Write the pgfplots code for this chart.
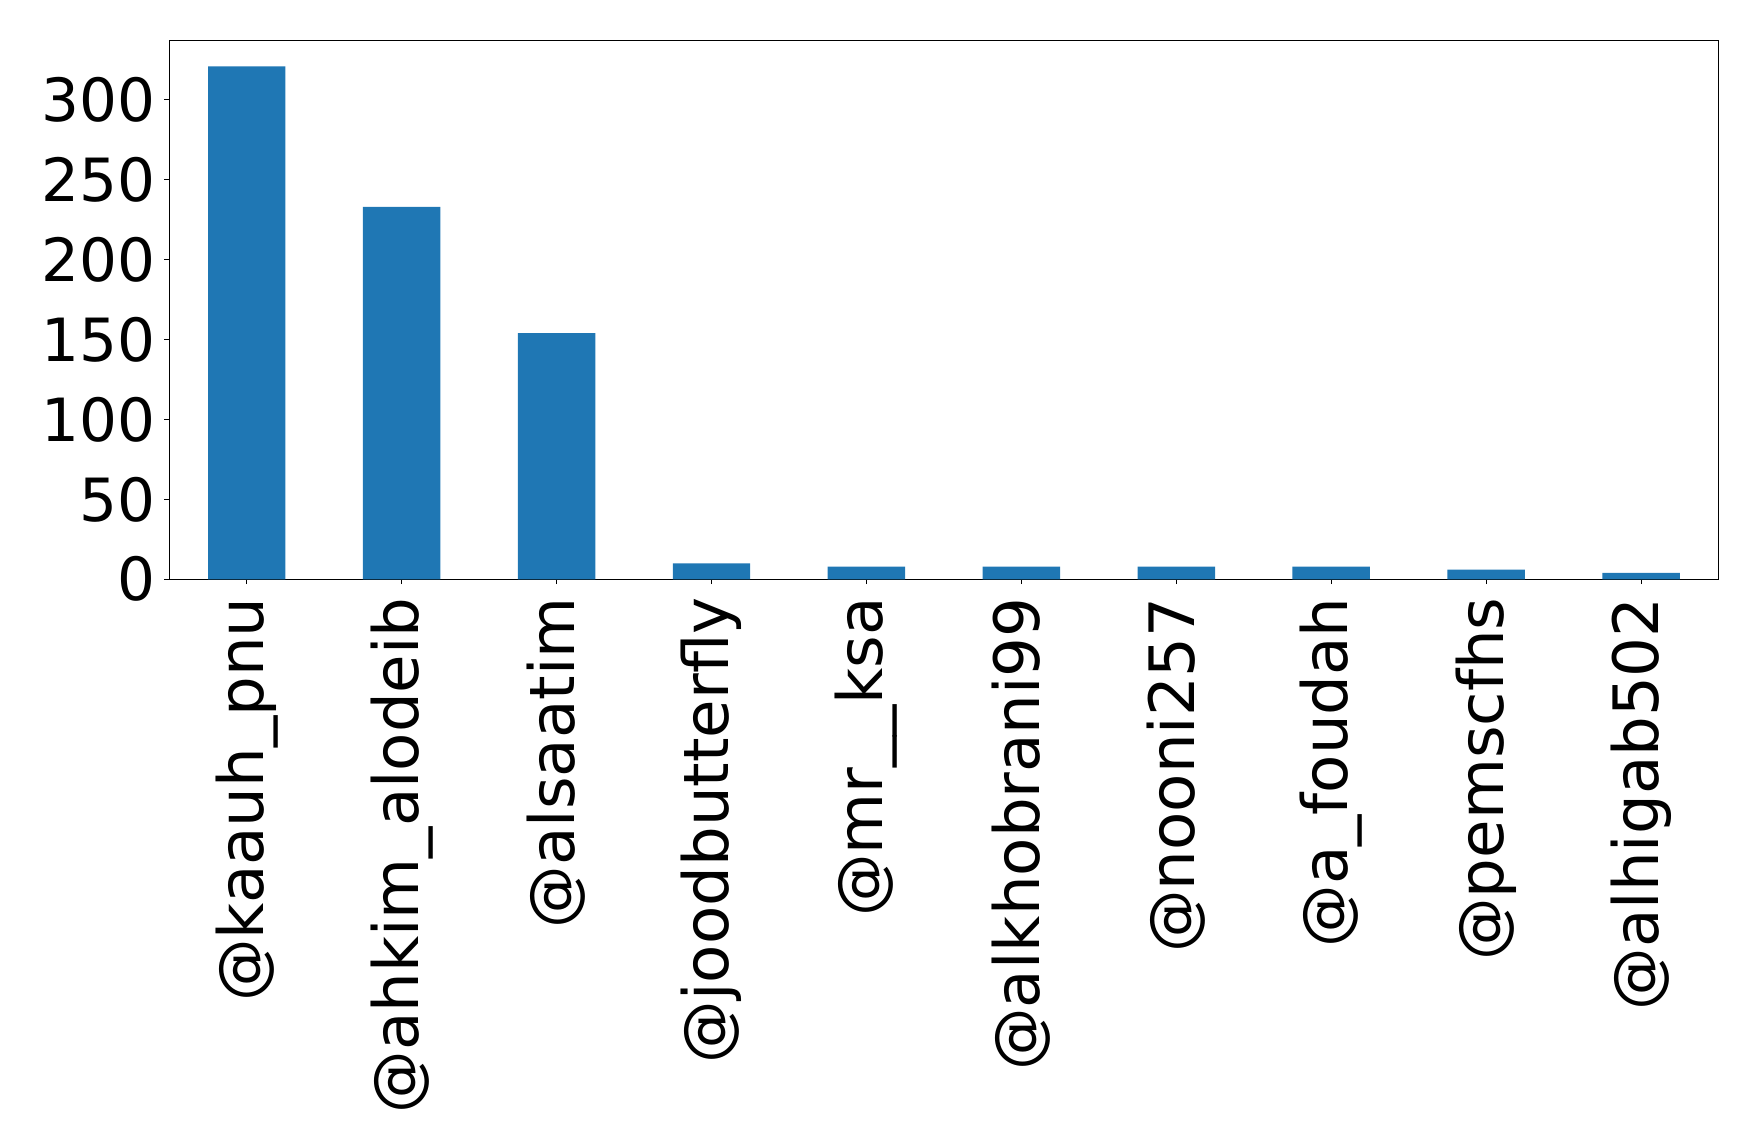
\documentclass[border=0pt]{standalone}
\usepackage{fontspec}
\setmainfont{DejaVu Sans}
\usepackage{pgfplots}
\pgfplotsset{compat=1.18}
\definecolor{barblue}{HTML}{1F77B4}

\begin{document}
\begin{tikzpicture}
\begin{axis}[
  scale only axis,
  width=774.65pt, height=269.3pt,
  xmin=-0.5, xmax=9.5,
  ymin=0, ymax=337.05,
  xtick=data,
  xticklabels={@kaauh\_pnu,@ahkim\_alodeib,@alsaatim,@joodbutterfly,@mr\_\_ksa,@alkhobrani99,@nooni257,@a\_foudah,@pemscfhs,@alhigab502},
  ytick={0,50,100,150,200,250,300},
  xtick pos=bottom, ytick pos=left,
  tick align=outside,
  major tick length=2.4pt,
  tick style={black, line width=0.5pt},
  axis line style={line width=0.6pt},
  /pgf/number format/assume math mode=true,
  tick label style={inner sep=0pt},
  yticklabel style={font=\fontsize{29.8}{34}\selectfont},
  xticklabel style={rotate=90, anchor=east, font=\fontsize{31.3}{36}\selectfont},
  xticklabel shift=6.5pt,
  yticklabel shift=4.5pt,
]
\addplot[ybar, bar width=0.5, fill=barblue, draw=none] coordinates {
  (0,321) (1,233) (2,154) (3,10) (4,8) (5,8) (6,8) (7,8) (8,6) (9,4)
};
\end{axis}
\path ([xshift=-84.65pt,yshift=-281.85pt]current axis.south west)
  rectangle ([xshift=20.25pt,yshift=20.35pt]current axis.north east);
\end{tikzpicture}
\end{document}
